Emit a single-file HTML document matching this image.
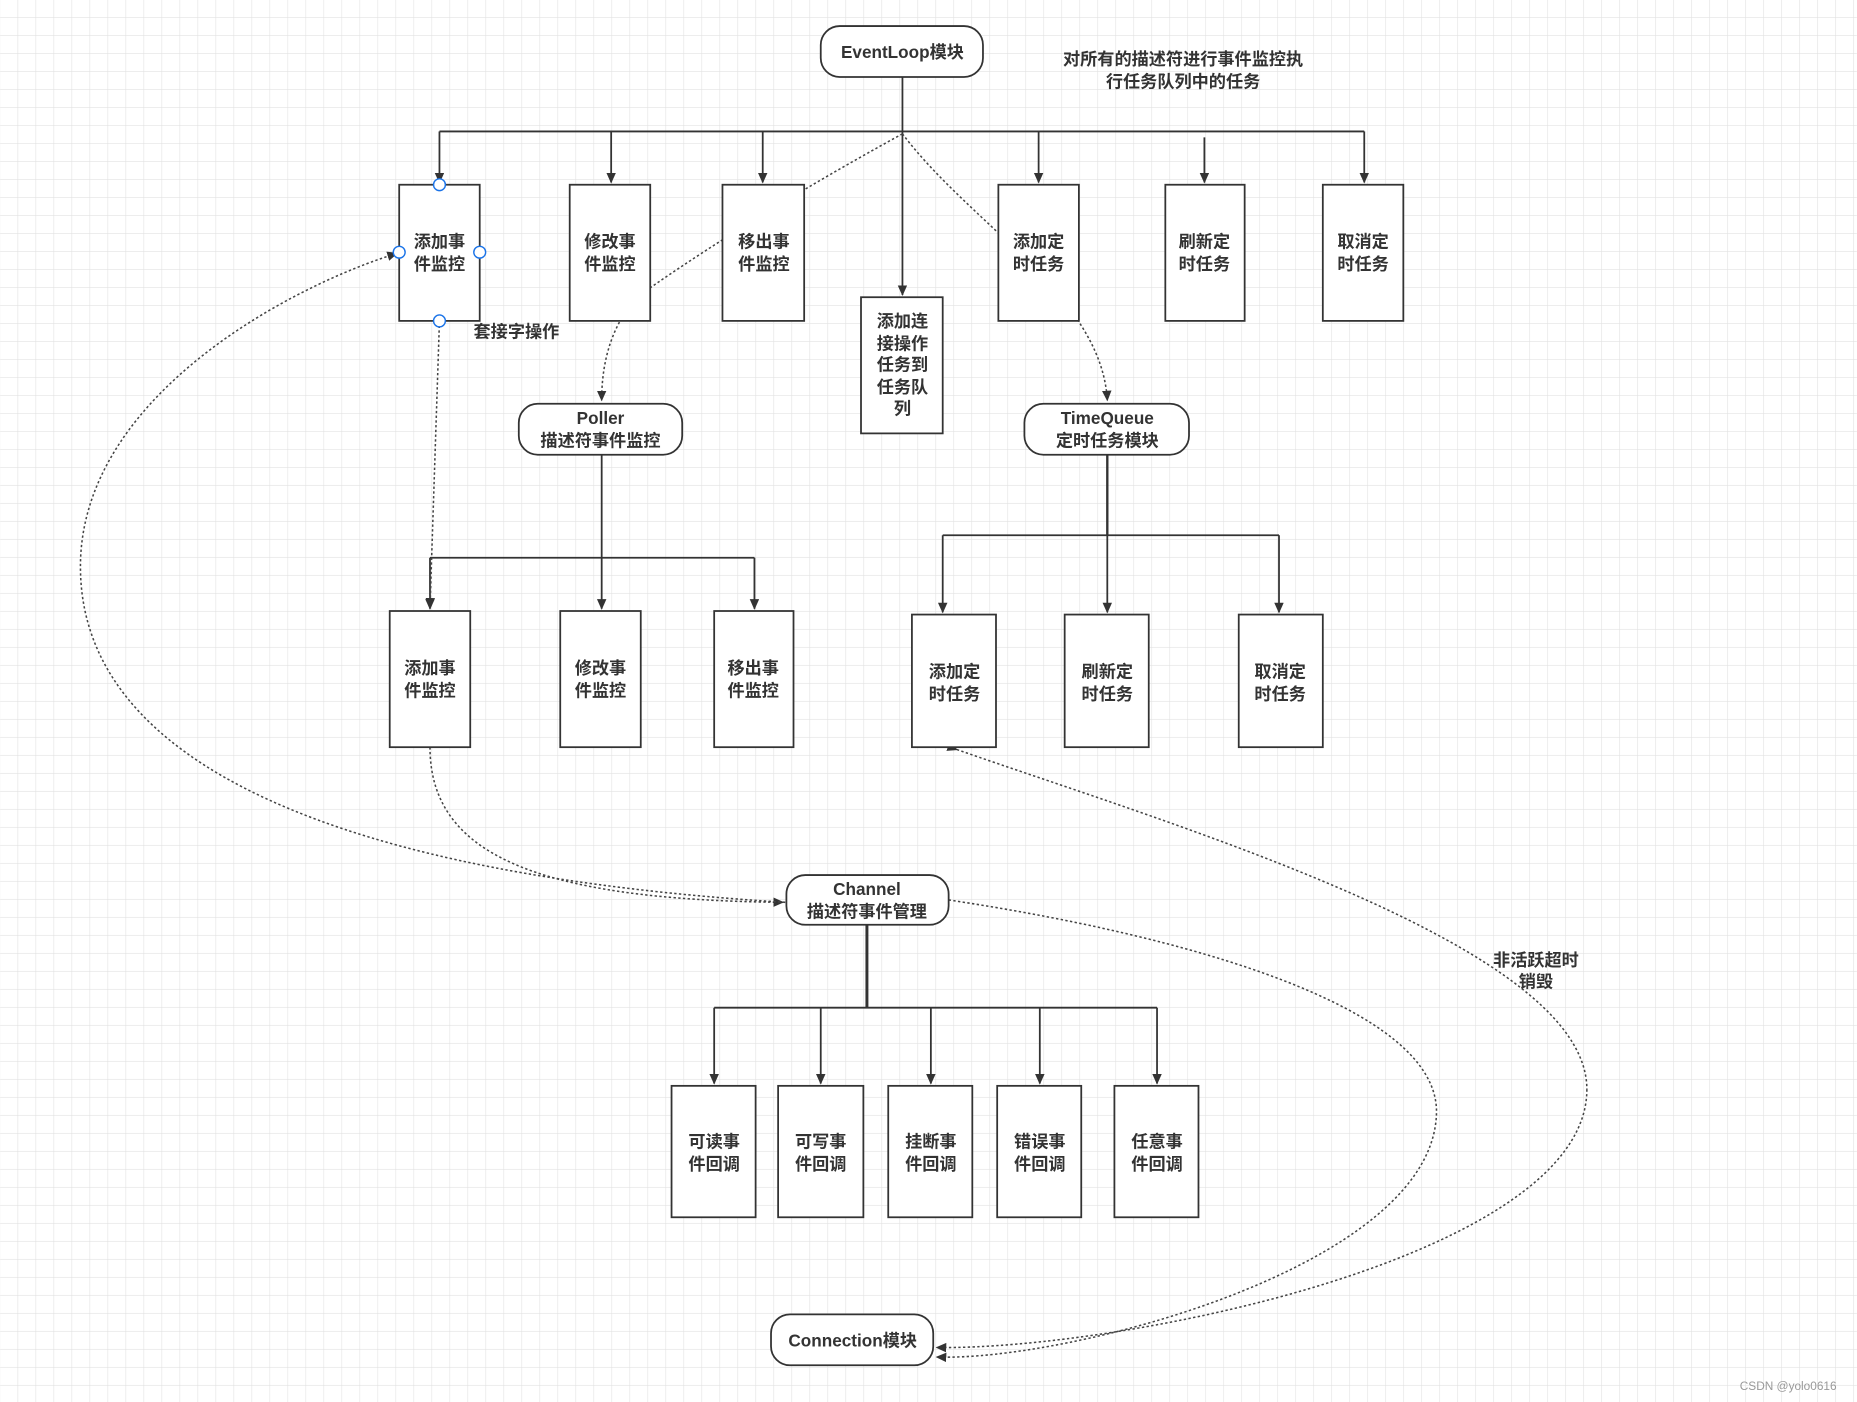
<!DOCTYPE html>
<html><head><meta charset="utf-8"><style>
html,body{margin:0;padding:0;background:#fff}
svg{display:block}
text{font-family:"Liberation Sans","Noto Sans CJK SC",sans-serif;font-weight:bold;fill:#333;font-size:14.5px;text-anchor:middle}
</style></head><body>
<svg width="1857" height="1402" viewBox="0 0 1568 1184" xmlns="http://www.w3.org/2000/svg">
<defs>
<pattern id="g" width="15.2" height="15.2" patternUnits="userSpaceOnUse"><path d="M15.2 0V15.2H0" fill="none" stroke="#e2e2e2" stroke-width="1"/></pattern>
<marker id="a" markerWidth="10" markerHeight="10" refX="8" refY="4" orient="auto" markerUnits="userSpaceOnUse"><path d="M0,0L9,4L0,8z" fill="#333"/></marker>
</defs>
<rect width="1568" height="1184" fill="url(#g)"/>
<g fill="none" stroke="#333" stroke-width="1.5">
<path d="M762,65V249" marker-end="url(#a)"/>
<path d="M371,111H1152"/>
<path d="M371,111V154" marker-end="url(#a)"/><path d="M516,111V154" marker-end="url(#a)"/><path d="M644,111V154" marker-end="url(#a)"/><path d="M877,111V154" marker-end="url(#a)"/><path d="M1017,116V154" marker-end="url(#a)"/><path d="M1152,111V154" marker-end="url(#a)"/>
<path d="M508,384V514" marker-end="url(#a)"/>
<path d="M363,471H637"/>
<path d="M363,471V514" marker-end="url(#a)"/><path d="M637,471V514" marker-end="url(#a)"/>
<path d="M935,384V452" stroke-width="2"/>
<path d="M796,452H1080"/>
<path d="M796,452V517" marker-end="url(#a)"/><path d="M935,452V517" marker-end="url(#a)"/><path d="M1080,452V517" marker-end="url(#a)"/>
<path d="M732,781V851" stroke-width="2.5"/>
<path d="M603,851H977"/>
<path d="M603,851V915" marker-end="url(#a)"/><path d="M693,851V915" marker-end="url(#a)"/><path d="M786,851V915" marker-end="url(#a)"/><path d="M878,851V915" marker-end="url(#a)"/><path d="M977,851V915" marker-end="url(#a)"/>
</g>
<g fill="none" stroke="#444" stroke-width="1.3" stroke-dasharray="2,2">
<path d="M762,113Q640,180 549,243"/>
<path d="M523,272Q508,300 508,338" marker-end="url(#a)"/>
<path d="M762,113C820,190 930,250 935,338" marker-end="url(#a)"/>
<path d="M371,271L363,513" marker-end="url(#a)"/>
<path d="M363,631C363,720 450,760 661,762" marker-end="url(#a)"/>
<path d="M663,762C300,740 60,650 68,470C75,330 250,240 335,214" marker-end="url(#a)"/>
<path d="M801,760C1000,790 1215,850 1213,940C1210,1070 900,1150 791,1146" marker-end="url(#a)"/>
<path d="M1340,920C1340,1060 950,1140 791,1138" marker-end="url(#a)"/>
<path d="M808,633C1000,700 1340,800 1340,920" marker-start="url(#a)"/>
</g>
<g fill="#fff" stroke="#333" stroke-width="1.5">
<rect x="693" y="22" width="137" height="43" rx="16"/>
<rect x="438" y="341" width="138" height="43" rx="16"/>
<rect x="865" y="341" width="139" height="43" rx="16"/>
<rect x="664" y="739" width="137" height="42" rx="16"/>
<rect x="651" y="1110" width="137" height="43" rx="16"/>
<rect x="337" y="156" width="68" height="115"/><rect x="481" y="156" width="68" height="115"/><rect x="610" y="156" width="69" height="115"/>
<rect x="843" y="156" width="68" height="115"/><rect x="984" y="156" width="67" height="115"/><rect x="1117" y="156" width="68" height="115"/>
<rect x="727" y="251" width="69" height="115"/>
<rect x="329" y="516" width="68" height="115"/><rect x="473" y="516" width="68" height="115"/><rect x="603" y="516" width="67" height="115"/>
<rect x="770" y="519" width="71" height="112"/><rect x="899" y="519" width="71" height="112"/><rect x="1046" y="519" width="71" height="112"/>
<rect x="567" y="917" width="71" height="111"/><rect x="657" y="917" width="72" height="111"/><rect x="750" y="917" width="71" height="111"/><rect x="842" y="917" width="71" height="111"/><rect x="941" y="917" width="71" height="111"/>
</g>
<g fill="#fff" stroke="#1a73e8" stroke-width="1.2">
<circle cx="371" cy="156" r="5"/><circle cx="337" cy="213" r="5"/><circle cx="405" cy="213" r="5"/><circle cx="371" cy="271" r="5"/>
</g>
<text x="762" y="49">EventLoop模块</text>
<text x="999" y="55">对所有的描述符进行事件监控执</text>
<text x="999" y="74">行任务队列中的任务</text>
<text x="371" y="209">添加事</text><text x="371" y="228">件监控</text>
<text x="515" y="209">修改事</text><text x="515" y="228">件监控</text>
<text x="645" y="209">移出事</text><text x="645" y="228">件监控</text>
<text x="877" y="209">添加定</text><text x="877" y="228">时任务</text>
<text x="1017" y="209">刷新定</text><text x="1017" y="228">时任务</text>
<text x="1151" y="209">取消定</text><text x="1151" y="228">时任务</text>
<text x="762" y="276">添加连</text><text x="762" y="295">接操作</text><text x="762" y="313">任务到</text><text x="762" y="332">任务队</text><text x="762" y="350">列</text>
<text x="436" y="285">套接字操作</text>
<text x="507" y="358">Poller</text><text x="507" y="377">描述符事件监控</text>
<text x="935" y="358">TimeQueue</text><text x="935" y="377">定时任务模块</text>
<text x="363" y="569">添加事</text><text x="363" y="588">件监控</text>
<text x="507" y="569">修改事</text><text x="507" y="588">件监控</text>
<text x="636" y="569">移出事</text><text x="636" y="588">件监控</text>
<text x="806" y="572">添加定</text><text x="806" y="591">时任务</text>
<text x="935" y="572">刷新定</text><text x="935" y="591">时任务</text>
<text x="1081" y="572">取消定</text><text x="1081" y="591">时任务</text>
<text x="732" y="756">Channel</text><text x="732" y="775">描述符事件管理</text>
<text x="1297" y="816">非活跃超时</text><text x="1297" y="834">销毁</text>
<text x="603" y="969">可读事</text><text x="603" y="988">件回调</text>
<text x="693" y="969">可写事</text><text x="693" y="988">件回调</text>
<text x="786" y="969">挂断事</text><text x="786" y="988">件回调</text>
<text x="878" y="969">错误事</text><text x="878" y="988">件回调</text>
<text x="977" y="969">任意事</text><text x="977" y="988">件回调</text>
<text x="720" y="1137">Connection模块</text>
<text x="1510" y="1174" style="font-size:10px;font-weight:normal;fill:#999">CSDN @yolo0616</text>
</svg>
</body></html>
